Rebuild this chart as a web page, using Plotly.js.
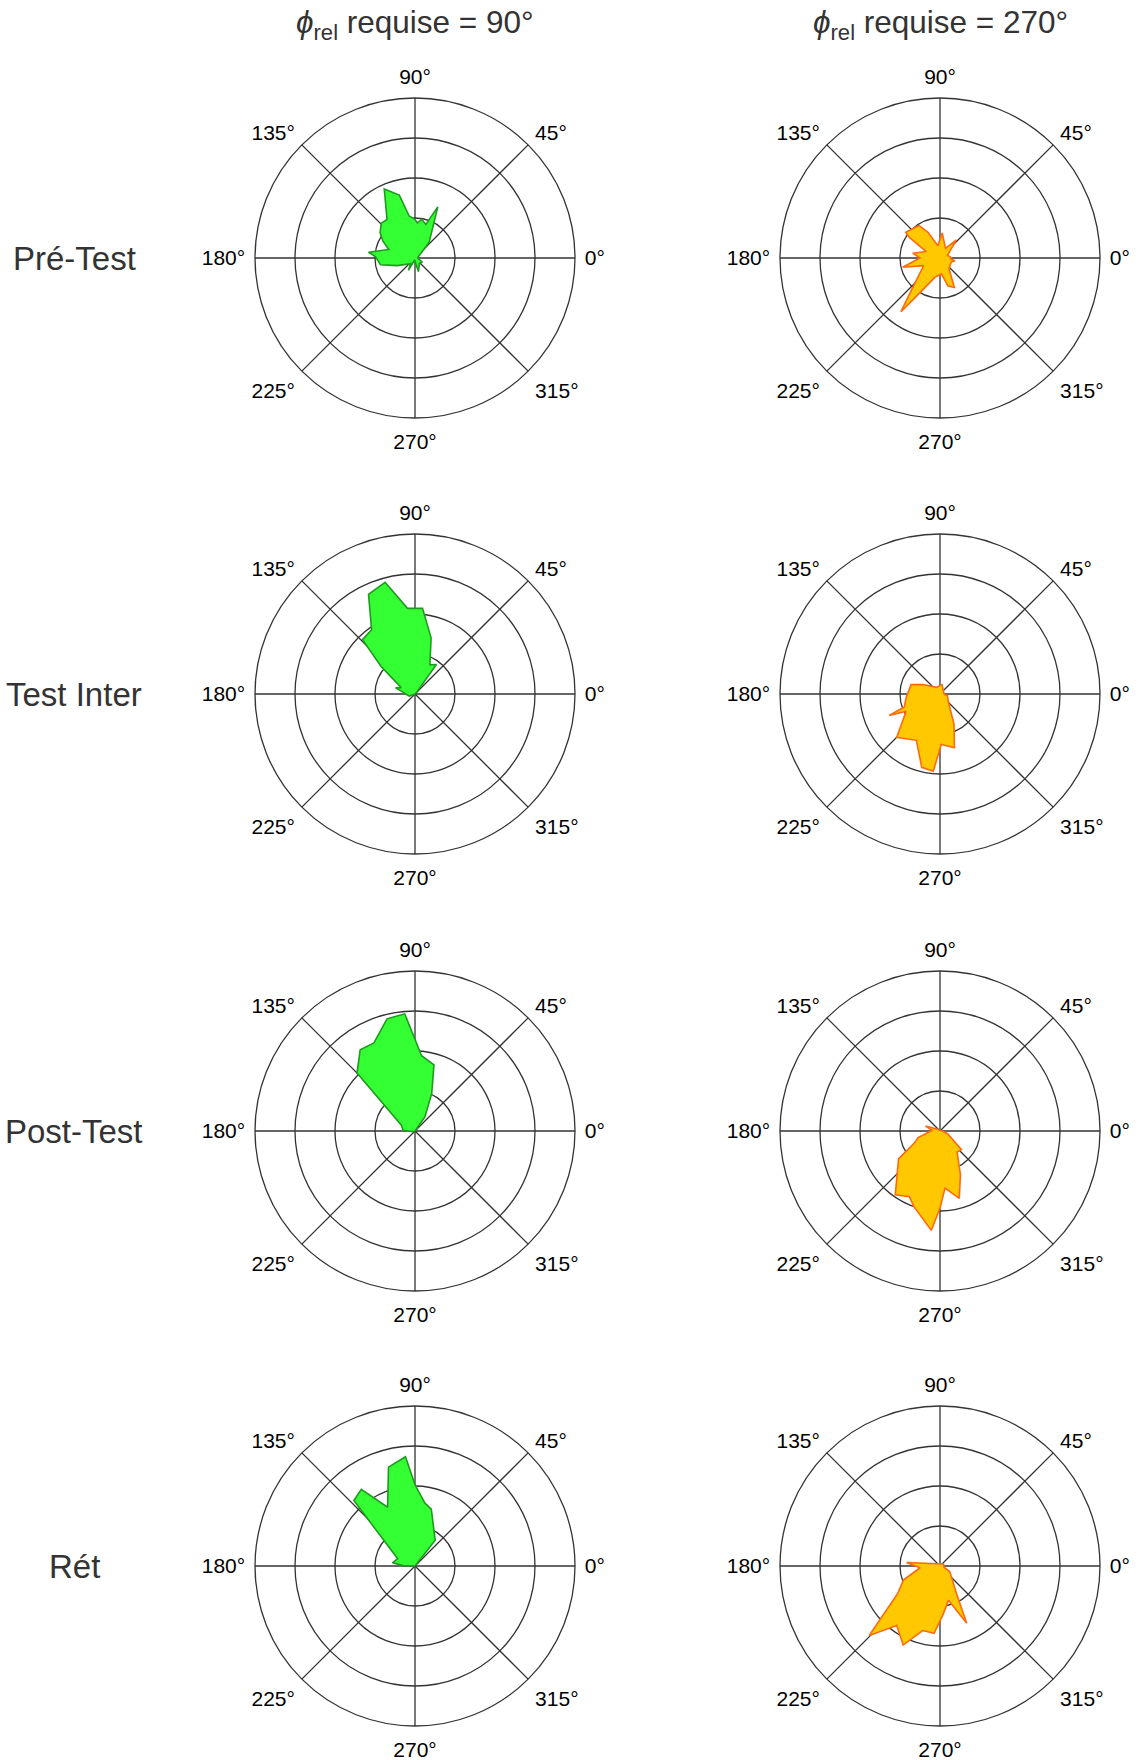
<!DOCTYPE html>
<html>
<head>
<meta charset="utf-8">
<script src="https://cdn.plot.ly/plotly-3.0.1.min.js"></script>
<style>html,body{margin:0;padding:0;background:#fff;}#chart{width:1143px;height:1760px;}</style>
</head>
<body>
<div id="chart"></div>
<script>
// Column / row labels
const columnTitles = ["<i>ϕ</i><sub>rel</sub> requise = 90°", "<i>ϕ</i><sub>rel</sub> requise = 270°"];
const rowLabels = ["Pré-Test", "Test Inter", "Post-Test", "Rét"];
const angleTicks = [0, 45, 90, 135, 180, 225, 270, 315];
const angleTickText = ["0°", "45°", "90°", "135°", "180°", "225°", "270°", "315°"];
const ringValues = [1, 2, 3, 4];

// Pré-Test
const thetaPre90 = [0, 48, 66, 72, 80, 86, 91, 98, 104, 114, 126, 134, 144, 152, 162, 173, 178, 191, 203, 232, 242, 260, 284, 311, 331];
const rPre90     = [0.06, 0.53, 1.40, 0.88, 0.98, 0.88, 0.98, 1.06, 1.62, 1.89, 1.19, 1.21, 1.08, 0.91, 0.69, 1.17, 0.99, 0.88, 0.49, 0.18, 0.35, 0.05, 0.35, 0.17, 0.21];
const thetaPre270 = [0, 20, 48, 60, 85, 100, 115, 123, 143, 146, 155, 170, 180, 194, 205, 228, 234, 240, 255, 275, 286, 296, 310, 340, 350, 355];
const rPre270     = [0.29, 0.2, 0.61, 0.28, 0.63, 0.31, 0.71, 0.97, 1.07, 0.93, 0.38, 0.69, 0.5, 0.96, 0.45, 1.05, 1.66, 1.0, 0.5, 0.4, 0.73, 0.82, 0.35, 0.3, 0.38, 0.25];
// Test Inter
const thetaInter90 = [0, 45, 54, 63, 74, 85, 95, 105, 115, 124, 134, 141, 155, 162, 168, 185, 200, 270];
const rInter90     = [0, 0.05, 0.91, 0.82, 1.46, 2.15, 2.15, 2.89, 2.75, 1.94, 1.89, 1.09, 0.38, 0.51, 0.35, 0.2, 0.15, 0];
const thetaInter270 = [0, 78, 119, 151, 162, 186, 200, 203, 207, 225, 243, 256, 265, 271.5, 285, 295, 315, 347];
const rInter270     = [0.1, 0.24, 0.19, 0.49, 0.76, 0.85, 0.95, 1.38, 0.95, 1.53, 1.30, 1.89, 1.94, 1.26, 1.39, 0.83, 0.30, 0.19];
// Post-Test
const thetaPost90 = [0, 55, 66, 74, 85, 95, 104, 115, 124, 135, 157, 177, 200, 270];
const rPost90     = [0, 0.43, 1.03, 1.72, 1.89, 2.94, 2.89, 2.43, 2.45, 2.05, 0.37, 0.30, 0.05, 0];
const thetaPost270 = [0, 150, 161, 175, 197, 205, 214, 235, 245, 251, 265, 270, 275, 286, 295, 309, 319, 340];
const rPost270     = [0.05, 0.1, 0.38, 0.2, 0.58, 0.7, 1.25, 1.95, 1.81, 2.0, 2.49, 1.93, 1.43, 1.75, 1.21, 0.68, 0.71, 0.2];
// Rét
const thetaRet90 = [0, 52, 74, 81, 90, 95, 105, 115, 125, 133, 157, 172, 178];
const rRet90     = [0, 0.82, 1.48, 1.59, 2.03, 2.74, 2.56, 1.62, 2.34, 2.24, 0.47, 0.57, 0.3];
const thetaRet270 = [0, 30, 174, 185, 201, 213, 224.5, 234, 245, 255, 265, 274, 284, 295, 301, 330, 345];
const rRet270     = [0.1, 0.1, 0.84, 0.5, 0.98, 1.26, 2.48, 1.84, 2.18, 1.67, 1.69, 1.20, 0.88, 1.58, 0.80, 0.28, 0.1];

const W = 1143, H = 1760;
const series = [
  [thetaPre90, rPre90, 0, 0], [thetaPre270, rPre270, 1, 0],
  [thetaInter90, rInter90, 0, 1], [thetaInter270, rInter270, 1, 1],
  [thetaPost90, rPost90, 0, 2], [thetaPost270, rPost270, 1, 2],
  [thetaRet90, rRet90, 0, 3], [thetaRet270, rRet270, 1, 3]
];
const colX = [415, 940];
const rowY = [258, 694, 1131, 1566];
const R = 160;
const styles = [
  {fill: "rgba(51,255,51,1)", line: "#1f9a1f"},
  {fill: "#ffc800", line: "#ff6a10"}
];

const data = [];
const layout = {
  width: W, height: H,
  margin: {l: 0, r: 0, t: 0, b: 0},
  paper_bgcolor: "#fff",
  showlegend: false,
  font: {family: "Arial, 'Liberation Sans', sans-serif", color: "#000"},
  annotations: []
};
series.forEach((s, i) => {
  const key = i === 0 ? "polar" : "polar" + (i + 1);
  const th = s[0].concat([s[0][0]]);
  const rr = s[1].concat([s[1][0]]);
  const st = styles[s[2]];
  data.push({
    type: "scatterpolar", theta: th, r: rr, subplot: key,
    mode: "lines", fill: "toself", fillcolor: st.fill,
    line: {color: st.line, width: 1.6}, hoverinfo: "skip"
  });
  const cx = colX[s[2]], cy = rowY[s[3]];
  layout[key] = {
    domain: {x: [(cx - R) / W, (cx + R) / W], y: [(H - cy - R) / H, (H - cy + R) / H]},
    bgcolor: "rgba(0,0,0,0)",
    radialaxis: {range: [0, 4], tickvals: ringValues, showticklabels: false, ticks: "",
      showline: false, gridcolor: "#333", gridwidth: 1.3},
    angularaxis: {rotation: 0, direction: "counterclockwise", tickvals: angleTicks, ticktext: angleTickText,
      ticks: "outside", ticklen: 5, tickcolor: "rgba(0,0,0,0)",
      showline: true, linecolor: "#333", linewidth: 1.3, gridcolor: "#333", gridwidth: 1.3,
      tickfont: {size: 21, color: "#000"}}
  };
});
columnTitles.forEach((t, i) => {
  layout.annotations.push({text: t, x: colX[i] / W, y: (H - 25) / H, xref: "paper", yref: "paper",
    showarrow: false, xanchor: "center", yanchor: "middle", font: {size: 31.5, color: "#333"}});
});
rowLabels.forEach((t, i) => {
  layout.annotations.push({text: t, x: 74 / W, y: (H - rowY[i]) / H, xref: "paper", yref: "paper",
    showarrow: false, xanchor: "center", yanchor: "middle", font: {size: 33, color: "#333"}});
});
Plotly.newPlot("chart", data, layout, {displayModeBar: false, staticPlot: true});
</script>
</body>
</html>
